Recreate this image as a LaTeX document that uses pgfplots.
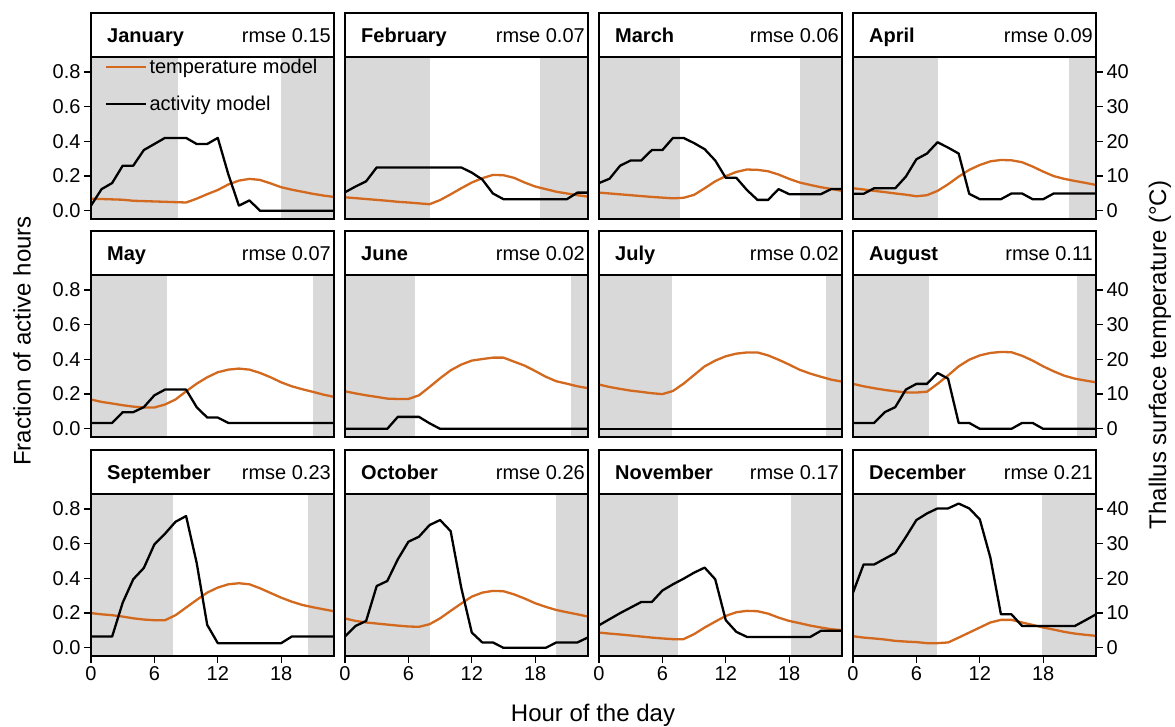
\documentclass[border=0pt]{standalone}
\usepackage{fontspec}
\setmainfont{Liberation Sans}
\usepackage{pgfplots}
\pgfplotsset{compat=1.18}
\usepackage{pgfplotstable}

\definecolor{tempcol}{RGB}{210,105,30}
\definecolor{nightcol}{RGB}{217,217,217}

% fraction of active hours, activity model
\pgfplotstableread{
h  Jan   Feb   Mar   Apr   May   Jun   Jul Aug   Sep   Oct   Nov   Dec
0  0.03  0.107 0.16  0.098 0.034 0     0   0.034 0.065 0.065 0.13  0.318
1  0.125 0.14  0.185 0.098 0.034 0     0   0.034 0.065 0.126 0.165 0.48
2  0.16  0.17  0.26  0.13  0.034 0     0   0.034 0.065 0.155 0.2   0.48
3  0.26  0.25  0.29  0.13  0.096 0     0   0.096 0.26  0.356 0.232 0.513
4  0.26  0.25  0.29  0.13  0.096 0     0   0.125 0.395 0.385 0.264 0.546
5  0.35  0.25  0.35  0.197 0.125 0.069 0   0.226 0.46  0.51  0.264 0.638
6  0.385 0.25  0.35  0.297 0.193 0.069 0   0.259 0.596 0.611 0.33  0.736
7  0.42  0.25  0.42  0.33  0.226 0.069 0   0.259 0.657 0.64  0.366 0.774
8  0.42  0.25  0.42  0.395 0.226 0.032 0   0.322 0.726 0.707 0.398 0.803
9  0.42  0.25  0.39  0.364 0.226 0     0   0.289 0.759 0.736 0.433 0.803
10 0.385 0.25  0.355 0.33  0.125 0     0   0.034 0.49  0.672 0.462 0.831
11 0.385 0.25  0.29  0.098 0.065 0     0   0.034 0.132 0.347 0.395 0.803
12 0.42  0.22  0.19  0.067 0.065 0     0   0     0.027 0.088 0.159 0.74
13 0.21  0.18  0.19  0.067 0.034 0     0   0     0.027 0.031 0.092 0.52
14 0.03  0.10  0.12  0.067 0.034 0     0   0     0.027 0.031 0.063 0.193
15 0.06  0.067 0.063 0.1   0.034 0     0   0     0.027 0     0.063 0.193
16 0     0.067 0.063 0.1   0.034 0     0   0.034 0.027 0     0.063 0.126
17 0     0.067 0.125 0.067 0.034 0     0   0.034 0.027 0     0.063 0.126
18 0     0.067 0.096 0.067 0.034 0     0   0     0.027 0     0.063 0.126
19 0     0.067 0.096 0.1   0.034 0     0   0     0.065 0     0.063 0.126
20 0     0.067 0.096 0.1   0.034 0     0   0     0.065 0.031 0.063 0.126
21 0     0.067 0.096 0.1   0.034 0     0   0     0.065 0.031 0.098 0.126
22 0     0.105 0.126 0.1   0.034 0     0   0     0.065 0.031 0.098 0.159
23 0     0.105 0.126 0.1   0.034 0     0   0     0.065 0.06  0.098 0.193
}\activity

% thallus surface temperature (deg C), temperature model
\pgfplotstableread{
h  Jan Feb  Mar   Apr   May   Jun   Jul   Aug   Sep   Oct   Nov   Dec
0  3.5 3.9  5.25  6.5   8.45  10.8  12.75 12.95 10.0  8.45  4.4   3.35
1  3.4 3.65 5.0   6.15  7.75  10.2  12.05 12.25 9.65  7.75  4.1   2.95
2  3.3 3.4  4.75  5.75  7.3   9.65  11.5  11.7  9.4   7.3   3.85  2.7
3  3.2 3.15 4.5   5.4   6.8   9.2   11.0  11.2  9.0   7.0   3.55  2.4
4  2.9 2.9  4.25  5.0   6.4   8.7   10.65 10.8  8.5   6.7   3.25  2.0
5  2.8 2.6  4.0   4.65  6.15  8.6   10.25 10.5  8.15  6.4   2.95  1.8
6  2.7 2.4  3.8   4.2   6.15  8.6   10.0  10.45 7.95  6.15  2.7   1.65
7  2.6 2.15 3.6   4.5   7.0   9.65  10.9  10.7  7.95  6.05  2.5   1.35
8  2.5 1.9  3.75  5.75  8.45  12.05 13.0  12.95 9.4   6.8   2.5   1.35
9  2.4 3.1  4.6   7.65  10.8  14.55 15.5  15.4  11.6  8.5   3.95  1.55
10 3.5 4.75 6.5   9.85  13.0  16.85 18.0  18.0  13.8  10.65 5.85  2.95
11 4.8 6.5  8.5   11.8  14.85 18.5  19.65 19.9  15.9  12.75 7.55  4.4
12 6.0 8.15 10.0  13.2  16.3  19.65 20.9  21.15 17.35 14.75 9.2   5.85
13 7.6 9.4  11.2  14.25 17.05 20.1  21.65 21.85 18.3  15.9  10.25 7.3
14 8.7 10.35 11.9 14.65 17.35 20.5  22.0  22.15 18.6  16.4  10.65 8.05
15 9.2 10.25 11.8 14.55 17.05 20.5  22.0  22.05 18.3  16.3  10.55 8.05
16 8.9 9.5  11.4  14.0  16.1  19.35 21.15 21.05 17.15 15.4  9.85  7.3
17 7.9 8.15 10.45 12.75 14.85 18.2  19.9  19.65 15.8  14.2  8.7   6.6
18 6.8 7.0  9.2   11.3  13.4  16.65 18.5  18.0  14.45 12.85 7.75  5.85
19 6.1 6.25 8.15  10.0  12.25 15.0  17.0  16.55 13.3  11.8  7.1   5.25
20 5.5 5.5  7.45  9.2   11.4  13.7  15.9  15.3  12.35 10.9  6.4   4.6
21 4.9 5.0  6.8   8.6   10.65 13.0  15.0  14.45 11.7  10.25 5.85  4.1
22 4.4 4.5  6.3   8.05  9.85  12.25 14.15 13.9  11.1  9.65  5.35  3.75
23 4.0 4.1  5.75  7.45  9.2   11.7  13.6  13.4  10.55 9.0   5.1   3.45
}\temperature

\newcommand\fs{\fontsize{20}{24}\selectfont}

\pgfplotsset{
  panel/.style={
    scale only axis, width=243pt, height=162pt, anchor=south west,
    xmin=0, xmax=23, ymin=-0.047, ymax=0.886,
    axis on top, axis line style={line width=1.4pt},
    tick align=outside, major tick length=7pt,
    tick style={line width=1.3pt, black},
    xtick=\empty, ytick=\empty,
    tick label style={font=\fs},
    /pgf/number format/assume math mode=true,
    legend image code/.code={\draw[##1] (0pt,0pt) -- (30pt,0pt);
      \path (0pt,0pt) -- (40pt,0pt);},
  },
  bottomrow/.style={xtick={0,6,12,18}, xtick pos=bottom},
  leftcol/.style={ytick={0,0.2,0.4,0.6,0.8}, ytick pos=left,
    yticklabel style={/pgf/number format/fixed, /pgf/number format/fixed zerofill,
      /pgf/number format/precision=1}},
  rightcol/.style={ytick={0,0.2,0.4,0.6,0.8}, yticklabels={0,10,20,30,40},
    ytick pos=right, yticklabel pos=right},
  templine/.style={tempcol, line width=2.3pt, line join=round},
  actline/.style={black, line width=2.3pt, line join=round},
}

% #1 x, #2 y of lower left corner (pt), #3 month, #4 rmse,
% #5 end of night, #6 start of night, #7 column, #8 extra options
\newcommand\panel[8]{%
  \begin{axis}[panel, at={(#1pt,#2pt)}, #8,
    after end axis/.append code={%
      \draw[line width=1.3pt] (rel axis cs:0,1) rectangle ([yshift=44pt]rel axis cs:1,1);
      \node[anchor=base west, inner sep=0pt, font=\bfseries\fs]
        at ([xshift=16pt, yshift=14.5pt]rel axis cs:0,1) {#3};
      \node[anchor=base east, inner sep=0pt, font=\fs]
        at ([xshift=-3pt, yshift=14.5pt]rel axis cs:1,1) {rmse #4};
    }]
    \addplot[fill=nightcol, draw=none, forget plot] coordinates {(0,-1) (#5,-1) (#5,1) (0,1)};
    \addplot[fill=nightcol, draw=none, forget plot] coordinates {(#6,-1) (23,-1) (23,1) (#6,1)};
    \addplot[templine] table[x=h, y expr=\thisrow{#7}/50] {\temperature};
    \addplot[actline] table[x=h, y=#7] {\activity};
  \end{axis}}

\begin{document}
\begin{tikzpicture}
\useasboundingbox (0pt,0pt) rectangle (1175pt,726pt);

\panel{91}{507}{January}{0.15}{8.2}{18.0}{Jan}{leftcol,
  legend entries={temperature model, activity model},
  legend cell align=left,
  legend style={at={(rel axis cs:0,1)}, anchor=north west, draw=none, fill=none,
    inner sep=0pt, xshift=14pt, yshift=0pt, font=\fs, row sep=17pt}}
\panel{345}{507}{February}{0.07}{8.06}{18.5}{Feb}{}
\panel{599}{507}{March}{0.06}{7.7}{19.0}{Mar}{}
\panel{853}{507}{April}{0.09}{8.0}{20.4}{Apr}{rightcol}

\panel{91}{289}{May}{0.07}{7.17}{21.0}{May}{leftcol}
\panel{345}{289}{June}{0.02}{6.64}{21.4}{Jun}{}
\panel{599}{289}{July}{0.02}{6.95}{21.5}{Jul}{}
\panel{853}{289}{August}{0.11}{7.17}{21.2}{Aug}{rightcol}

\panel{91}{70}{September}{0.23}{7.74}{20.5}{Sep}{leftcol,bottomrow}
\panel{345}{70}{October}{0.26}{8.0}{20.0}{Oct}{bottomrow}
\panel{599}{70}{November}{0.17}{7.46}{18.2}{Nov}{bottomrow}
\panel{853}{70}{December}{0.21}{7.96}{17.9}{Dec}{rightcol,bottomrow}

\node[rotate=90, font=\fontsize{24}{28}\selectfont] at (22pt,385pt) {Fraction of active hours};
\node[rotate=90, font=\fontsize{24}{28}\selectfont] at (1160pt,371pt) {Thallus surface temperature (°C)};
\node[anchor=base, font=\fontsize{24}{28}\selectfont] at (593pt,5pt) {Hour of the day};
\end{tikzpicture}
\end{document}
